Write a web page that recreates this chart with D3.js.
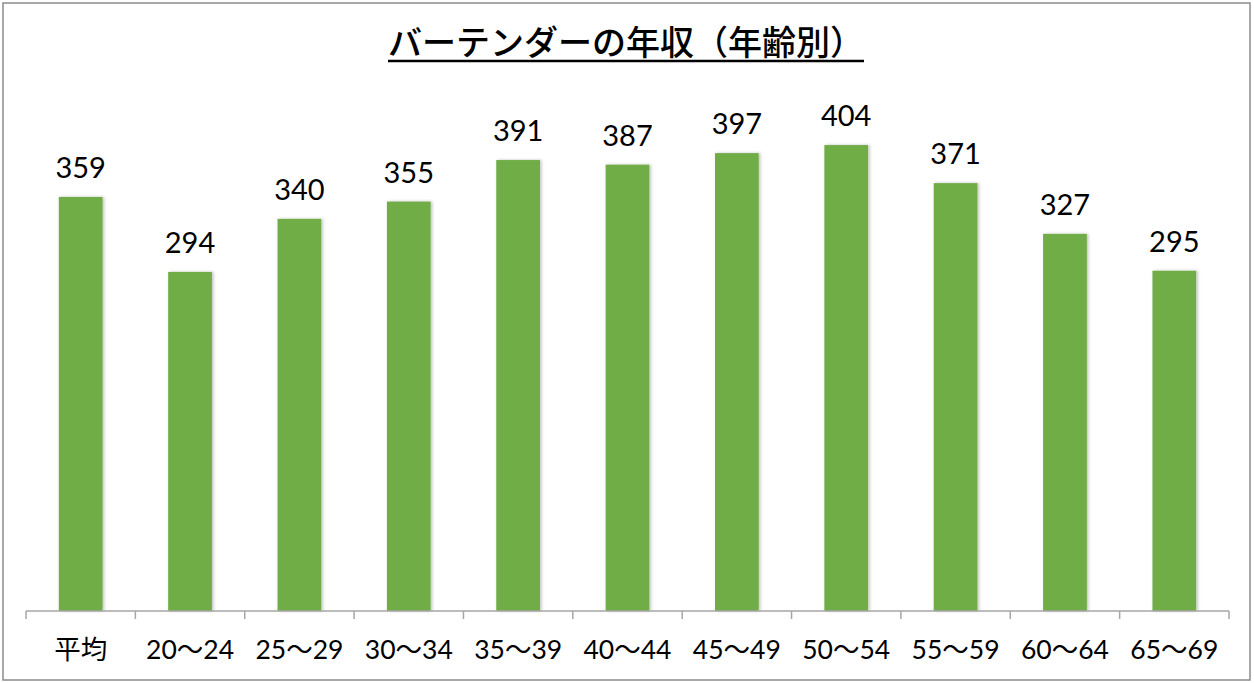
<!DOCTYPE html>
<html><head><meta charset="utf-8">
<script src="https://cdn.jsdelivr.net/npm/d3@7"></script>
<style>
html,body{margin:0;padding:0;background:#fff;}
svg{display:block;}
</style></head>
<body>
<script>
const categories = ["平均","20〜24","25〜29","30〜34","35〜39","40〜44","45〜49","50〜54","55〜59","60〜64","65〜69"];
const values = [359,294,340,355,391,387,397,404,371,327,295];
const title = "バーテンダーの年収（年齢別）";

const W = 1254, H = 683;
const svg = d3.select("body").append("svg").attr("width", W).attr("height", H);

const defs = svg.append("defs");
const f = defs.append("filter").attr("id","sh").attr("x","-20%").attr("y","-5%").attr("width","150%").attr("height","110%");
f.append("feDropShadow").attr("dx",1.5).attr("dy",0).attr("stdDeviation",1.5).attr("flood-color","#000").attr("flood-opacity",0.25);

svg.append("rect").attr("x",3).attr("y",3).attr("width",1247).attr("height",677)
  .attr("fill","#fff").attr("stroke","#8c8c8c").attr("stroke-width",1.5);

const x = d3.scaleBand().domain(categories).range([26,1229]).paddingInner(0.6).paddingOuter(0.3);
const y = d3.scaleLinear().domain([0,450]).range([611,92]);

// bars
svg.append("g").selectAll("rect").data(values).join("rect")
  .attr("x",(d,i)=>x(categories[i]))
  .attr("y",d=>y(d))
  .attr("width",x.bandwidth())
  .attr("height",d=>y(0)-y(d))
  .attr("fill","#70ad47")
  .attr("filter","url(#sh)");

// axis
const axisG = svg.append("g").attr("transform",`translate(0,${y(0)})`);
axisG.append("line").attr("x1",26).attr("x2",1229).attr("stroke","#a6a6a6").attr("stroke-width",1.5);
const step = (1229-26)/categories.length;
const tickPos = d3.range(categories.length+1).map(i=>26+i*step);
axisG.selectAll("line.t").data(tickPos).join("line").attr("class","t")
  .attr("x1",d=>d).attr("x2",d=>d).attr("y1",0).attr("y2",8)
  .attr("stroke","#a6a6a6").attr("stroke-width",1.5);

// category labels
svg.append("g").selectAll("text").data(categories).join("text")
  .attr("x",d=>x(d)+x.bandwidth()/2)
  .attr("y",659)
  .attr("text-anchor","middle")
  .attr("font-family","Lato, 'Noto Sans CJK JP', sans-serif")
  .attr("font-size",26.5)
  .attr("fill","#000")
  .text(d=>d);

// value labels
svg.append("g").selectAll("text").data(values).join("text")
  .attr("x",(d,i)=>x(categories[i])+x.bandwidth()/2)
  .attr("y",d=>y(d)-19)
  .attr("text-anchor","middle")
  .attr("font-family","Lato, 'Noto Sans CJK JP', sans-serif")
  .attr("font-size",29)
  .attr("fill","#000")
  .text(d=>d);

// title
const t = svg.append("text").attr("x",626).attr("y",55).attr("text-anchor","middle")
  .attr("font-family","'Noto Sans CJK JP', sans-serif").attr("font-size",34).attr("font-weight",500).attr("fill","#000")
  .text(title);
const bb = t.node().getBBox();
svg.append("line").attr("x1",bb.x).attr("x2",bb.x+bb.width).attr("y1",61).attr("y2",61)
  .attr("stroke","#000").attr("stroke-width",2.5);
</script>
</body></html>
